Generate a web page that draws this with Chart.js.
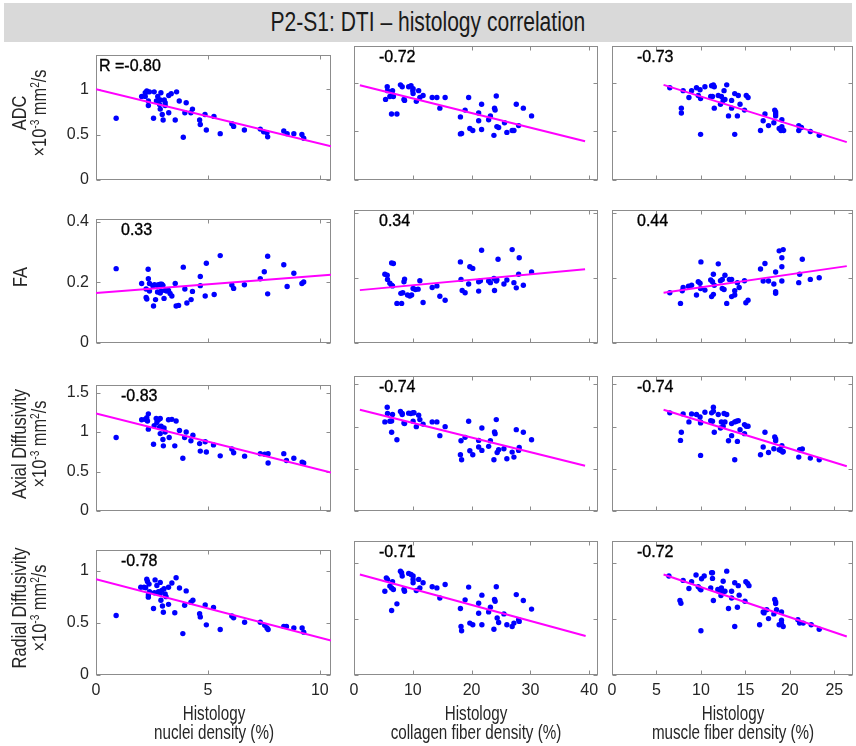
<!DOCTYPE html>
<html>
<head>
<meta charset="utf-8">
<script src="https://cdn.jsdelivr.net/npm/chart.js@4.4.1/dist/chart.umd.min.js"></script>
<style>
  body { margin: 0; width: 856px; height: 746px; background: #fff; position: relative; overflow: hidden;
         font-family: "Liberation Sans", Arial, sans-serif; color: #262626; }
  #title { position: absolute; left: 4px; top: 3px; width: 848px; height: 39px; background: #d9d9d9;
           font-size: 27px; line-height: 39px; text-align: center; color: #1a1a1a; }
  #title .nar { transform: scaleX(0.78); }
  canvas { position: absolute; }
  .nar { display: inline-block; transform: scaleX(0.78); }
  .ylab { position: absolute; transform: translate(-50%, -50%) rotate(-90deg); white-space: nowrap;
          font-size: 21px; line-height: 20px; text-align: center; }
  .xlab { position: absolute; transform: translateX(-50%); white-space: nowrap; text-align: center;
          font-size: 20px; line-height: 19px; }
  .xlab .nar { transform: scaleX(0.76); }
  sup { font-size: 13px; vertical-align: 7px; line-height: 0; }
</style>
</head>
<body>
<div id="title"><span class="nar">P2-S1: DTI – histology correlation</span></div>
<script>
// --- data ---
const rowNames = ["ADC", "FA", "Axial Diffusivity", "Radial Diffusivity"];
const rowHasUnit = [true, false, true, true];
const unitText = "×10<sup>-3</sup> mm<sup>2</sup>/s";
const colNames = ["nuclei density (%)", "collagen fiber density (%)", "muscle fiber density (%)"];

const xTicks = [[0, 5, 10], [0, 10, 20, 30, 40], [0, 5, 10, 15, 20, 25]];
const xMax = [10.5, 41.5, 27.1];
const yTicks = [[0, 0.5, 1], [0, 0.2, 0.4], [0, 0.5, 1, 1.5], [0, 0.5, 1]];
const yMax = [1.38, 0.41, 1.6, 1.2];

const rLabels = [
  ["R =-0.80", "-0.72", "-0.73"],
  ["0.33", "0.34", "0.44"],
  ["-0.83", "-0.74", "-0.74"],
  ["-0.78", "-0.71", "-0.72"]
];

// regression line end points [x0, y0, x1, y1]
const fitLines = [
  [[0, 1.0, 10.5, 0.37], [1, 0.975, 39.3, 0.40], [5.8, 0.98, 26.4, 0.39]],
  [[0, 0.165, 10.5, 0.225], [1, 0.163, 39.3, 0.227], [5.8, 0.155, 26.4, 0.237]],
  [[0, 1.235, 10.5, 0.488], [1, 1.20, 39.3, 0.536], [5.8, 1.20, 26.4, 0.53]],
  [[0, 0.916, 10.5, 0.33], [1, 0.90, 39.4, 0.35], [5.8, 0.90, 26.4, 0.345]]
];

const adcNuclei = [[0.90,0.68],[2.04,0.92],[2.2,0.96],[2.27,0.98],[2.3,0.97],[2.39,0.97],[2.2,0.92],[2.34,0.87],[2.34,0.82],[2.57,0.68],[2.6,0.97],[2.7,0.87],[2.79,0.87],[2.87,0.88],[2.76,0.92],[2.84,0.83],[2.9,0.96],[2.87,0.78],[2.96,0.72],[3.0,0.66],[3.05,0.88],[3.09,0.85],[3.09,0.82],[3.25,0.93],[3.36,0.95],[3.25,0.74],[3.54,0.66],[3.6,0.97],[3.72,0.87],[3.9,0.47],[3.97,0.74],[4.03,0.85],[4.24,0.74],[4.31,0.78],[4.63,0.66],[4.66,0.61],[4.87,0.72],[4.93,0.55],[5.27,0.70],[5.55,0.51],[6.07,0.62],[6.15,0.59],[6.63,0.55],[7.34,0.56],[7.49,0.53],[7.64,0.52],[7.67,0.475],[8.39,0.54],[8.54,0.51],[8.84,0.51],[9.2,0.50],[9.28,0.46]];
const adcCollagen = [[5.37,0.83],[5.65,0.96],[5.7,0.92],[6.1,0.86],[6.38,0.68],[6.55,0.92],[6.55,0.88],[6.7,0.86],[7.3,0.68],[7.9,0.98],[8.2,0.96],[8.5,0.83],[8.6,0.82],[9.3,0.96],[9.7,0.97],[10.05,0.94],[10.05,0.89],[10.0,0.92],[10.6,0.81],[11.0,0.92],[11.2,0.85],[11.75,0.87],[13.3,0.85],[14.1,0.85],[14.6,0.74],[15.5,0.85],[18.1,0.65],[18.1,0.475],[18.3,0.48],[18.9,0.72],[19.5,0.85],[19.7,0.53],[20.2,0.51],[21.2,0.69],[21.2,0.61],[21.7,0.78],[21.7,0.52],[22.9,0.62],[23.2,0.66],[23.8,0.46],[23.9,0.74],[24.0,0.72],[24.2,0.865],[24.3,0.55],[24.6,0.54],[25.6,0.59],[26.0,0.49],[26.9,0.51],[27.2,0.51],[27.6,0.78],[28.0,0.56],[28.8,0.74],[30.2,0.66]];
const adcMuscle = [[6.5,0.95],[7.8,0.74],[7.8,0.69],[8.0,0.92],[8.65,0.85],[8.95,0.92],[9.5,0.95],[9.7,0.87],[9.9,0.93],[9.96,0.84],[9.96,0.47],[10.45,0.96],[11.2,0.97],[11.4,0.98],[11.5,0.96],[11.1,0.86],[11.3,0.86],[11.5,0.74],[11.95,0.87],[12.2,0.78],[12.3,0.86],[12.5,0.82],[12.7,0.83],[12.6,0.92],[12.9,0.98],[13.1,0.66],[13.45,0.82],[13.45,0.74],[13.8,0.89],[14.2,0.87],[13.8,0.47],[14.1,0.66],[14.4,0.78],[14.9,0.72],[15.1,0.87],[15.3,0.85],[16.7,0.51],[17.0,0.61],[17.2,0.68],[17.6,0.56],[18.2,0.59],[18.3,0.72],[18.4,0.70],[18.4,0.68],[18.4,0.66],[18.8,0.53],[19.0,0.51],[19.1,0.53],[19.1,0.62],[19.1,0.55],[19.3,0.51],[21.0,0.56],[21.0,0.51],[21.3,0.54],[22.3,0.50],[23.3,0.46]];

const faNuclei = [[0.9,0.245],[2.04,0.196],[2.24,0.178],[2.24,0.15],[2.27,0.145],[2.33,0.243],[2.34,0.212],[2.39,0.196],[2.39,0.171],[2.54,0.189],[2.61,0.192],[2.57,0.122],[2.66,0.143],[2.72,0.19],[2.79,0.192],[2.87,0.194],[2.94,0.194],[2.99,0.19],[2.75,0.168],[2.87,0.165],[2.91,0.171],[3.04,0.147],[3.09,0.173],[3.16,0.171],[3.24,0.173],[3.31,0.163],[3.39,0.155],[3.54,0.196],[3.58,0.122],[3.69,0.124],[3.9,0.25],[3.97,0.178],[4.06,0.132],[4.25,0.143],[4.31,0.17],[4.66,0.219],[4.66,0.189],[4.88,0.155],[4.93,0.263],[5.28,0.16],[5.55,0.288],[6.07,0.191],[6.15,0.18],[6.63,0.192],[7.34,0.212],[7.52,0.235],[7.67,0.286],[7.67,0.162],[8.39,0.258],[8.54,0.186],[8.84,0.23],[9.2,0.196],[9.28,0.201]];
const faCollagen = [[5.25,0.212],[5.65,0.209],[5.7,0.196],[6.1,0.184],[6.4,0.178],[6.55,0.176],[6.4,0.247],[6.7,0.245],[7.3,0.122],[8.1,0.122],[7.97,0.153],[8.3,0.155],[8.5,0.189],[8.6,0.197],[9.1,0.148],[9.5,0.145],[9.8,0.148],[10.05,0.168],[10.45,0.165],[10.9,0.166],[11.2,0.192],[11.75,0.125],[13.3,0.171],[14.1,0.176],[14.6,0.144],[15.5,0.132],[18.1,0.25],[18.2,0.196],[18.4,0.162],[18.9,0.155],[19.5,0.182],[19.7,0.235],[20.2,0.23],[21.2,0.189],[21.5,0.192],[21.2,0.16],[21.7,0.286],[22.9,0.191],[23.2,0.186],[23.8,0.199],[23.9,0.162],[24.2,0.191],[24.3,0.194],[24.5,0.258],[25.5,0.182],[26.0,0.194],[26.9,0.288],[27.2,0.186],[27.6,0.17],[28.0,0.212],[28.1,0.263],[28.8,0.178],[30.2,0.219]];
const faMuscle = [[6.5,0.155],[7.7,0.122],[7.9,0.161],[8.0,0.171],[8.6,0.175],[8.95,0.178],[9.5,0.148],[9.7,0.189],[9.9,0.184],[9.96,0.168],[10.0,0.25],[10.45,0.163],[11.1,0.194],[11.3,0.189],[11.2,0.143],[11.4,0.15],[11.4,0.212],[11.5,0.178],[11.95,0.244],[12.2,0.192],[12.4,0.196],[12.4,0.168],[12.6,0.165],[12.7,0.209],[12.9,0.122],[13.2,0.196],[13.45,0.196],[13.45,0.143],[13.8,0.148],[13.8,0.161],[14.1,0.186],[14.3,0.171],[14.9,0.192],[15.05,0.124],[15.3,0.132],[16.7,0.228],[17.0,0.191],[17.2,0.245],[17.6,0.191],[18.2,0.182],[18.4,0.158],[18.4,0.153],[18.4,0.219],[18.8,0.284],[19.25,0.288],[19.1,0.263],[19.1,0.235],[19.1,0.191],[21.1,0.212],[21.0,0.186],[21.4,0.258],[22.3,0.196],[23.3,0.201]];

const axNuclei = [[0.9,0.93],[2.04,1.155],[2.19,1.16],[2.27,1.18],[2.3,1.14],[2.34,1.23],[2.34,1.036],[2.57,0.845],[2.6,1.08],[2.69,1.17],[2.79,1.155],[2.87,1.17],[2.72,1.12],[2.84,1.06],[2.91,1.075],[2.87,0.98],[2.99,0.905],[3.01,0.825],[3.04,1.05],[3.09,1.0],[3.24,1.155],[3.39,1.16],[3.27,0.93],[3.52,0.825],[3.58,1.14],[3.73,1.02],[3.88,0.667],[3.96,0.93],[4.03,1.0],[4.24,0.89],[4.33,0.96],[4.63,0.853],[4.66,0.758],[4.88,0.877],[4.93,0.746],[5.25,0.837],[5.55,0.698],[6.07,0.786],[6.15,0.738],[6.64,0.694],[7.34,0.726],[7.54,0.718],[7.69,0.726],[7.69,0.607],[8.39,0.726],[8.51,0.639],[8.84,0.667],[9.21,0.619],[9.28,0.607]];
const axCollagen = [[5.25,1.056],[5.65,1.23],[5.7,1.155],[6.1,1.063],[6.4,1.067],[6.55,1.143],[6.4,0.933],[7.3,0.845],[7.9,1.18],[8.2,1.155],[8.2,1.143],[8.5,1.044],[8.6,1.036],[9.3,1.16],[9.66,1.155],[10.05,1.165],[10.2,1.165],[10.05,1.063],[10.6,1.0],[11.0,1.135],[11.2,1.083],[11.75,1.03],[13.3,1.056],[14.1,1.056],[14.6,0.893],[15.5,1.0],[18.1,0.667],[18.2,0.833],[18.3,0.607],[18.9,0.873],[19.5,1.063],[19.7,0.714],[20.2,0.667],[21.2,0.837],[21.2,0.758],[21.75,0.984],[21.75,0.718],[22.9,0.766],[23.2,0.833],[23.8,0.607],[23.9,0.937],[24.0,0.917],[24.2,1.083],[24.35,0.694],[24.6,0.726],[25.5,0.738],[26.0,0.619],[26.9,0.698],[27.2,0.639],[27.6,0.964],[28.0,0.718],[28.1,0.754],[28.8,0.933],[30.2,0.845]];
const axMuscle = [[6.5,1.163],[7.7,0.837],[7.8,0.933],[8.0,1.151],[8.65,1.056],[8.95,1.151],[9.5,1.143],[9.9,1.115],[9.96,1.056],[9.96,1.044],[9.96,0.659],[10.45,1.17],[11.1,1.071],[11.3,1.063],[11.2,1.163],[11.4,1.183],[11.4,1.23],[11.5,0.933],[11.95,1.143],[12.2,0.984],[12.3,1.056],[12.5,1.004],[12.7,1.056],[12.6,1.155],[12.9,1.143],[13.1,0.833],[13.45,1.036],[13.45,0.893],[13.8,1.056],[14.0,1.063],[14.2,1.071],[13.8,0.607],[14.1,0.825],[14.4,0.964],[14.9,1.024],[15.1,1.004],[15.3,1.004],[14.9,0.917],[16.7,0.667],[17.0,0.758],[17.2,0.933],[17.6,0.694],[18.2,0.738],[18.3,0.877],[18.4,0.853],[18.4,0.833],[18.8,0.726],[19.0,0.718],[19.2,0.698],[19.1,0.774],[19.25,0.706],[21.0,0.639],[21.1,0.726],[21.4,0.734],[22.3,0.627],[23.3,0.607]];

const rdNuclei = [[0.9,0.57],[2.0,0.84],[2.15,0.84],[2.22,0.835],[2.27,0.916],[2.3,0.895],[2.34,0.766],[2.34,0.745],[2.37,0.87],[2.39,0.796],[2.57,0.637],[2.61,0.787],[2.64,0.91],[2.72,0.856],[2.79,0.796],[2.84,0.787],[2.87,0.78],[2.87,0.886],[2.9,0.715],[2.94,0.81],[2.97,0.66],[3.01,0.60],[3.04,0.826],[3.09,0.775],[3.13,0.75],[3.24,0.676],[3.24,0.84],[3.39,0.88],[3.52,0.595],[3.58,0.93],[3.73,0.832],[3.88,0.396],[3.96,0.667],[4.03,0.805],[4.24,0.697],[4.33,0.715],[4.63,0.586],[4.66,0.556],[4.88,0.67],[4.93,0.48],[5.25,0.646],[5.55,0.435],[6.07,0.565],[6.15,0.547],[6.64,0.505],[7.34,0.505],[7.54,0.475],[7.64,0.45],[7.69,0.435],[8.39,0.465],[8.51,0.465],[8.84,0.45],[9.21,0.45],[9.28,0.41]];
const rdCollagen = [[5.25,0.75],[5.5,0.87],[5.7,0.856],[6.1,0.796],[6.4,0.78],[6.4,0.577],[6.55,0.835],[6.7,0.766],[7.3,0.637],[7.9,0.93],[8.1,0.916],[8.2,0.886],[8.5,0.766],[8.6,0.75],[9.3,0.91],[9.7,0.9],[10.05,0.886],[10.05,0.856],[10.05,0.826],[10.6,0.757],[11.0,0.856],[11.2,0.78],[11.75,0.826],[13.3,0.79],[14.1,0.78],[14.6,0.69],[15.5,0.81],[18.1,0.595],[18.2,0.435],[18.3,0.396],[18.9,0.673],[19.5,0.787],[19.7,0.465],[20.2,0.45],[21.2,0.643],[21.2,0.553],[21.75,0.715],[21.75,0.45],[22.9,0.565],[23.2,0.607],[23.8,0.41],[23.9,0.676],[24.0,0.66],[24.2,0.79],[24.35,0.51],[24.6,0.47],[25.5,0.547],[26.0,0.45],[26.9,0.435],[27.2,0.465],[27.6,0.72],[28.0,0.495],[28.1,0.48],[28.8,0.667],[30.2,0.59]];
const rdMuscle = [[6.4,0.886],[7.64,0.667],[7.75,0.643],[8.0,0.847],[8.65,0.775],[8.95,0.835],[9.45,0.895],[9.7,0.79],[9.9,0.772],[10.0,0.763],[10.07,0.862],[10.0,0.396],[10.37,0.886],[11.1,0.78],[11.2,0.916],[11.3,0.916],[11.3,0.865],[11.4,0.667],[11.9,0.766],[12.0,0.75],[12.25,0.712],[12.3,0.78],[12.5,0.75],[12.7,0.75],[12.5,0.84],[12.9,0.93],[13.1,0.595],[13.45,0.75],[13.45,0.69],[13.8,0.826],[14.2,0.8],[13.8,0.435],[14.1,0.607],[14.3,0.715],[14.95,0.66],[15.05,0.835],[15.25,0.82],[15.4,0.8],[16.6,0.45],[17.0,0.565],[17.1,0.556],[17.4,0.585],[17.6,0.505],[18.2,0.547],[18.3,0.676],[18.4,0.655],[18.4,0.64],[18.5,0.585],[18.8,0.45],[19.06,0.465],[19.06,0.565],[19.06,0.49],[19.25,0.435],[20.9,0.495],[21.1,0.465],[21.5,0.465],[22.4,0.45],[23.3,0.41]];

const panelData = [
  [adcNuclei, adcCollagen, adcMuscle],
  [faNuclei, faCollagen, faMuscle],
  [axNuclei, axCollagen, axMuscle],
  [rdNuclei, rdCollagen, rdMuscle]
];

// --- layout (pixel positions of each plot box) ---
const colLeft = [96, 354, 612];
const colRight = [331, 598, 853];
const rowTop = [46, 210, 376, 541];
const rowBottom = [180, 343, 511, 675];
const AXIS_W = 50, AXIS_H = 30, PAD_T = 8, PAD_R = 12;

Chart.defaults.font.family = '"Liberation Sans", Arial, sans-serif';
Chart.defaults.font.size = 16;
Chart.defaults.color = '#262626';

// frame with inward ticks on all four sides + R label
const framePlugin = {
  id: 'frame',
  beforeDatasetsDraw(chart) {
    const { ctx, chartArea: a, scales } = chart;
    const l = Math.round(a.left) + 0.5, r = Math.round(a.right) - 0.5;
    const t = Math.round(a.top) + 0.5, b = Math.round(a.bottom) - 0.5;
    ctx.save();
    ctx.strokeStyle = '#8c8c8c';
    ctx.lineWidth = 1;
    ctx.strokeRect(l, t, r - l, b - t);
    ctx.beginPath();
    scales.x.ticks.forEach(tk => {
      const px = Math.round(scales.x.getPixelForValue(tk.value)) + 0.5;
      ctx.moveTo(px, b); ctx.lineTo(px, b - 4);
      ctx.moveTo(px, t); ctx.lineTo(px, t + 4);
    });
    scales.y.ticks.forEach(tk => {
      const py = Math.round(scales.y.getPixelForValue(tk.value)) + 0.5;
      ctx.moveTo(l, py); ctx.lineTo(l + 4, py);
      ctx.moveTo(r, py); ctx.lineTo(r - 4, py);
    });
    ctx.stroke();
    ctx.restore();
  },
  afterDatasetsDraw(chart, args, opts) {
    const { ctx, chartArea: a } = chart;
    ctx.save();
    ctx.font = '16px "Liberation Sans", Arial, sans-serif';
    ctx.fillStyle = '#000';
    ctx.strokeStyle = '#000';
    ctx.lineWidth = 0.35;
    ctx.textBaseline = 'middle';
    ctx.fillText(opts.text, a.left + opts.dx, a.top + 12);
    ctx.strokeText(opts.text, a.left + opts.dx, a.top + 12);
    ctx.restore();
  }
};

function makePanel(r, c) {
  const plotW = colRight[c] - colLeft[c];
  const plotH = rowBottom[r] - rowTop[r];
  const canvas = document.createElement('canvas');
  canvas.width = plotW + AXIS_W + PAD_R;
  canvas.height = plotH + PAD_T + AXIS_H;
  canvas.style.left = (colLeft[c] - AXIS_W) + 'px';
  canvas.style.top = (rowTop[r] - PAD_T) + 'px';
  document.body.appendChild(canvas);

  const pts = panelData[r][c].map(p => ({ x: p[0], y: p[1] }));
  const f = fitLines[r][c];
  const label = rLabels[r][c];

  new Chart(canvas.getContext('2d'), {
    type: 'scatter',
    data: {
      datasets: [
        {
          type: 'line',
          data: [{ x: f[0], y: f[1] }, { x: f[2], y: f[3] }],
          borderColor: '#ff00ff',
          borderWidth: 2,
          pointRadius: 0,
          fill: false,
          order: 0
        },
        {
          data: pts,
          backgroundColor: '#0000ff',
          borderWidth: 0,
          pointRadius: 2.7,
          order: 1
        }
      ]
    },
    options: {
      responsive: false,
      animation: false,
      events: [],
      layout: { padding: { left: 0, top: PAD_T, right: PAD_R, bottom: 0 } },
      plugins: {
        legend: { display: false },
        tooltip: { enabled: false },
        frame: { text: label, dx: label.startsWith('R') ? 3 : 25 }
      },
      scales: {
        x: {
          type: 'linear',
          min: 0,
          max: xMax[c],
          afterBuildTicks: s => { s.ticks = xTicks[c].map(v => ({ value: v })); },
          afterFit: s => { s.height = AXIS_H; },
          grid: { display: false, drawTicks: false },
          border: { display: false },
          ticks: { display: r === 3, padding: 6, maxRotation: 0, autoSkip: false, callback: v => String(v) }
        },
        y: {
          type: 'linear',
          min: 0,
          max: yMax[r],
          afterBuildTicks: s => { s.ticks = yTicks[r].map(v => ({ value: v })); },
          afterFit: s => { s.width = AXIS_W; },
          grid: { display: false, drawTicks: false },
          border: { display: false },
          ticks: { display: c === 0, padding: 7, autoSkip: false, callback: v => String(v) }
        }
      }
    },
    plugins: [framePlugin]
  });
}

for (let r = 0; r < 4; r++) {
  for (let c = 0; c < 3; c++) {
    makePanel(r, c);
  }
}

// row titles on the left
rowNames.forEach((name, r) => {
  const d = document.createElement('div');
  d.className = 'ylab';
  d.innerHTML = '<span class="nar">' + (rowHasUnit[r] ? name + '<br>' + unitText : name) + '</span>';
  d.style.left = (rowHasUnit[r] ? 29 : 20) + 'px';
  d.style.top = ((rowTop[r] + rowBottom[r]) / 2) + 'px';
  document.body.appendChild(d);
});

// column titles at the bottom
colNames.forEach((name, c) => {
  const d = document.createElement('div');
  d.className = 'xlab';
  d.innerHTML = '<span class="nar">Histology<br>' + name + '</span>';
  d.style.left = ((colLeft[c] + colRight[c]) / 2) + 'px';
  d.style.top = '704px';
  document.body.appendChild(d);
});
</script>
</body>
</html>
